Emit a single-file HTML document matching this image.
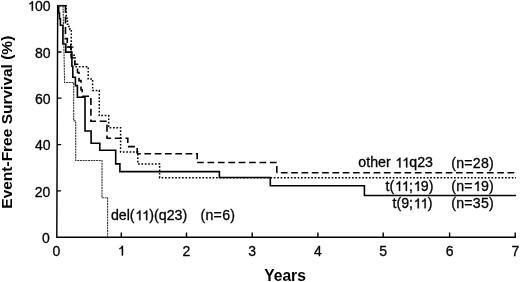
<!DOCTYPE html>
<html><head><meta charset="utf-8"><style>
html,body{margin:0;padding:0;background:#fff;width:520px;height:282px;overflow:hidden;}
svg{display:block;will-change:transform;}
</style></head><body>
<svg width="520" height="282" viewBox="0 0 520 282">
<g fill="none" stroke="#000" stroke-linejoin="miter" stroke-linecap="butt">
<path d="M57.7 4.9 L56.8 237.2 H516" stroke-width="1.45"/>
<path d="M57.4 52 H61.5 M57.2 98.2 H61.5 M57 144.6 H61.2 M56.8 190.8 H61" stroke-width="1.3"/>
<path d="M67.7 47.1 H73.5 M70.6 44.2 V50" stroke-width="1.2"/>
<path d="M121.3 237.2 V232.6 M186.5 237.2 V232.6 M252.2 237.2 V232.6 M317.9 237.2 V232.6 M383.2 237.2 V232.6 M449.6 237.2 V232.6 M515.2 237.5 V232.6" stroke-width="1.4"/>
<path d="M57.7 5.7 L58.7 5.7 L58.7 13.0 L59.5 13.0 L59.5 18.7 L60.4 18.7 L60.4 25.3 L62.9 25.3 L62.9 44.0 L65.8 44.0 L65.8 52.1 L71.9 52.1 L71.9 66.2 L72.8 66.2 L72.8 77.3 L75.4 77.3 L75.4 85.6 L77.4 85.6 L77.4 97.2 L85.0 97.2 L85.0 131.0 L91.1 131.0 L91.1 143.3 L99.8 143.3 L99.8 150.3 L115.7 150.3 L115.7 163.9 L119.9 163.9 L119.9 171.6 L219.4 171.6 L219.4 177.5 L270.3 177.5 L270.3 185.7 L364.4 185.7 L364.4 195.5 L516.0 195.5" stroke-width="1.6"/>
<path d="M57.7 5.7 H66.8" stroke-width="1.6"/>
<path d="M65.5 5.7 L65.5 5.7 L65.5 38.6 L67.3 38.6 L67.3 47.0 L71.2 47.0 L71.2 57.8 L74.8 57.8 L74.8 64.3 L77.5 64.3 L77.5 72.5 L79.0 72.5 L79.0 80.6 L81.0 80.6 L81.0 89.7 L82.2 89.7 L82.2 96.2 L90.9 96.2 L90.9 121.3 L107.0 121.3 L107.0 138.3 L127.8 138.3 L127.8 146.6 L137.2 146.6 L137.2 153.8" stroke-width="1.6" stroke-dasharray="7 3.7"/>
<path d="M137.2 153.8 L197.2 153.8 L197.2 162.5" stroke-width="1.6" stroke-dasharray="6.7 3.6" stroke-dashoffset="3.1"/>
<path d="M197.2 162.5 L276.8 162.5 L276.8 172.8" stroke-width="1.6" stroke-dasharray="6.7 3.7" stroke-dashoffset="0.1"/>
<path d="M276.8 172.8 L516.0 172.8" stroke-width="1.6" stroke-dasharray="6.7 3.6" stroke-dashoffset="6.20"/>
<path d="M66.2 5.7 L66.2 5.7 L66.2 18.2 L67.4 18.2 L67.4 24.2 L68.6 24.2 L68.6 26.4 L69.9 26.4 L69.9 29.5 L71.3 29.5 L71.3 55.3 L74.9 55.3 L74.9 66.7 L88.2 66.7 L88.2 79.1 L92.6 79.1 L92.6 90.6 L99.3 90.6 L99.3 115.6 L108.7 115.6 L108.7 127.7 L120.6 127.7 L120.6 151.9 L137.8 151.9 L137.8 163.9 L159.6 163.9 L159.6 177.7 L516.0 177.7" stroke-width="1.5" stroke-dasharray="1.7 1.7" stroke-dashoffset="1.20"/>
<path d="M57.7 5.7 L63.1 5.7 L64.6 82.5 L64.6 82.5 L73.7 82.5 L73.7 120.8 L75.7 120.8 L75.7 160.5 L102.0 160.5 L102.0 197.8 L107.6 197.8 L107.6 236.9" stroke-width="1.1" stroke-dasharray="2 0.7" stroke="#333"/>
</g>
<g font-family="'Liberation Sans', sans-serif" font-size="14" fill="#000" stroke="#000" stroke-width="0.3" text-anchor="end">
<text x="50.5" y="10.8"> 00</text>
<text x="50.5" y="57.8">80</text>
<text x="50.5" y="103.6">60</text>
<text x="50.5" y="149.9">40</text>
<text x="50.3" y="196.7">20</text>
<text x="49.8" y="242.9">0</text>
</g>
<g font-family="'Liberation Sans', sans-serif" font-size="14" fill="#000" stroke="#000" stroke-width="0.3" text-anchor="middle">
<text x="56.5" y="255.5">0</text>
<text x="121.1" y="255.5"> </text>
<text x="186.5" y="255.5">2</text>
<text x="252.2" y="255.5">3</text>
<text x="317.9" y="255.5">4</text>
<text x="383.2" y="255.5">5</text>
<text x="449.6" y="255.5">6</text>
<text x="515.4" y="255.5">7</text>
</g>
<g font-family="'Liberation Sans', sans-serif" font-size="14.2" fill="#000" stroke="#000" stroke-width="0.3">
<text x="358.3" y="167.4">other  <tspan dx="-1.05"> </tspan>q23</text>
<text x="451.3" y="167.5" letter-spacing="0.2">(n=28)</text>
<text x="385.6" y="191">t( <tspan dx="-1.05"> </tspan>; 9)</text>
<text x="451.3" y="191" letter-spacing="0.2">(n= 9)</text>
<text x="392.5" y="208.3">t(9; <tspan dx="-1.05"> </tspan>)</text>
<text x="451.3" y="208.3" letter-spacing="0.2">(n=35)</text>
<text x="110.9" y="220.3">del( <tspan dx="-1.05"> </tspan>)(q23)</text>
<text x="200.5" y="220.3" letter-spacing="0.25">(n=6)</text>
</g>
<text x="285" y="280.6" font-family="'Liberation Sans', sans-serif" font-weight="bold" font-size="15.6" text-anchor="middle">Years</text>
<text transform="translate(12.3,122.2) rotate(-90)" font-family="'Liberation Sans', sans-serif" font-weight="bold" font-size="15.3" text-anchor="middle" textLength="173" lengthAdjust="spacingAndGlyphs">Event-Free Survival (%)</text>
<g fill="#000" stroke="#000" stroke-width="0.3" vector-effect="non-scaling-stroke">
<path transform="translate(27.14 10.80) scale(0.00684 -0.00684)" d="M850 0H670V1100Q605 1040 510 990Q415 940 320 915V1075Q465 1130 560 1215Q655 1300 695 1409H850Z" vector-effect="non-scaling-stroke"/>
<path transform="translate(117.20 255.50) scale(0.00684 -0.00684)" d="M850 0H670V1100Q605 1040 510 990Q415 940 320 915V1075Q465 1130 560 1215Q655 1300 695 1409H850Z" vector-effect="non-scaling-stroke"/>
<path transform="translate(394.57 167.40) scale(0.00693 -0.00693)" d="M850 0H670V1100Q605 1040 510 990Q415 940 320 915V1075Q465 1130 560 1215Q655 1300 695 1409H850Z" vector-effect="non-scaling-stroke"/>
<path transform="translate(401.42 167.40) scale(0.00693 -0.00693)" d="M850 0H670V1100Q605 1040 510 990Q415 940 320 915V1075Q465 1130 560 1215Q655 1300 695 1409H850Z" vector-effect="non-scaling-stroke"/>
<path transform="translate(394.26 191.00) scale(0.00693 -0.00693)" d="M850 0H670V1100Q605 1040 510 990Q415 940 320 915V1075Q465 1130 560 1215Q655 1300 695 1409H850Z" vector-effect="non-scaling-stroke"/>
<path transform="translate(401.11 191.00) scale(0.00693 -0.00693)" d="M850 0H670V1100Q605 1040 510 990Q415 940 320 915V1075Q465 1130 560 1215Q655 1300 695 1409H850Z" vector-effect="non-scaling-stroke"/>
<path transform="translate(412.94 191.00) scale(0.00693 -0.00693)" d="M850 0H670V1100Q605 1040 510 990Q415 940 320 915V1075Q465 1130 560 1215Q655 1300 695 1409H850Z" vector-effect="non-scaling-stroke"/>
<path transform="translate(472.80 191.00) scale(0.00693 -0.00693)" d="M850 0H670V1100Q605 1040 510 990Q415 940 320 915V1075Q465 1130 560 1215Q655 1300 695 1409H850Z" vector-effect="non-scaling-stroke"/>
<path transform="translate(412.98 208.30) scale(0.00693 -0.00693)" d="M850 0H670V1100Q605 1040 510 990Q415 940 320 915V1075Q465 1130 560 1215Q655 1300 695 1409H850Z" vector-effect="non-scaling-stroke"/>
<path transform="translate(419.84 208.30) scale(0.00693 -0.00693)" d="M850 0H670V1100Q605 1040 510 990Q415 940 320 915V1075Q465 1130 560 1215Q655 1300 695 1409H850Z" vector-effect="non-scaling-stroke"/>
<path transform="translate(134.56 220.30) scale(0.00693 -0.00693)" d="M850 0H670V1100Q605 1040 510 990Q415 940 320 915V1075Q465 1130 560 1215Q655 1300 695 1409H850Z" vector-effect="non-scaling-stroke"/>
<path transform="translate(141.41 220.30) scale(0.00693 -0.00693)" d="M850 0H670V1100Q605 1040 510 990Q415 940 320 915V1075Q465 1130 560 1215Q655 1300 695 1409H850Z" vector-effect="non-scaling-stroke"/>
</g>
</svg>
</body></html>
